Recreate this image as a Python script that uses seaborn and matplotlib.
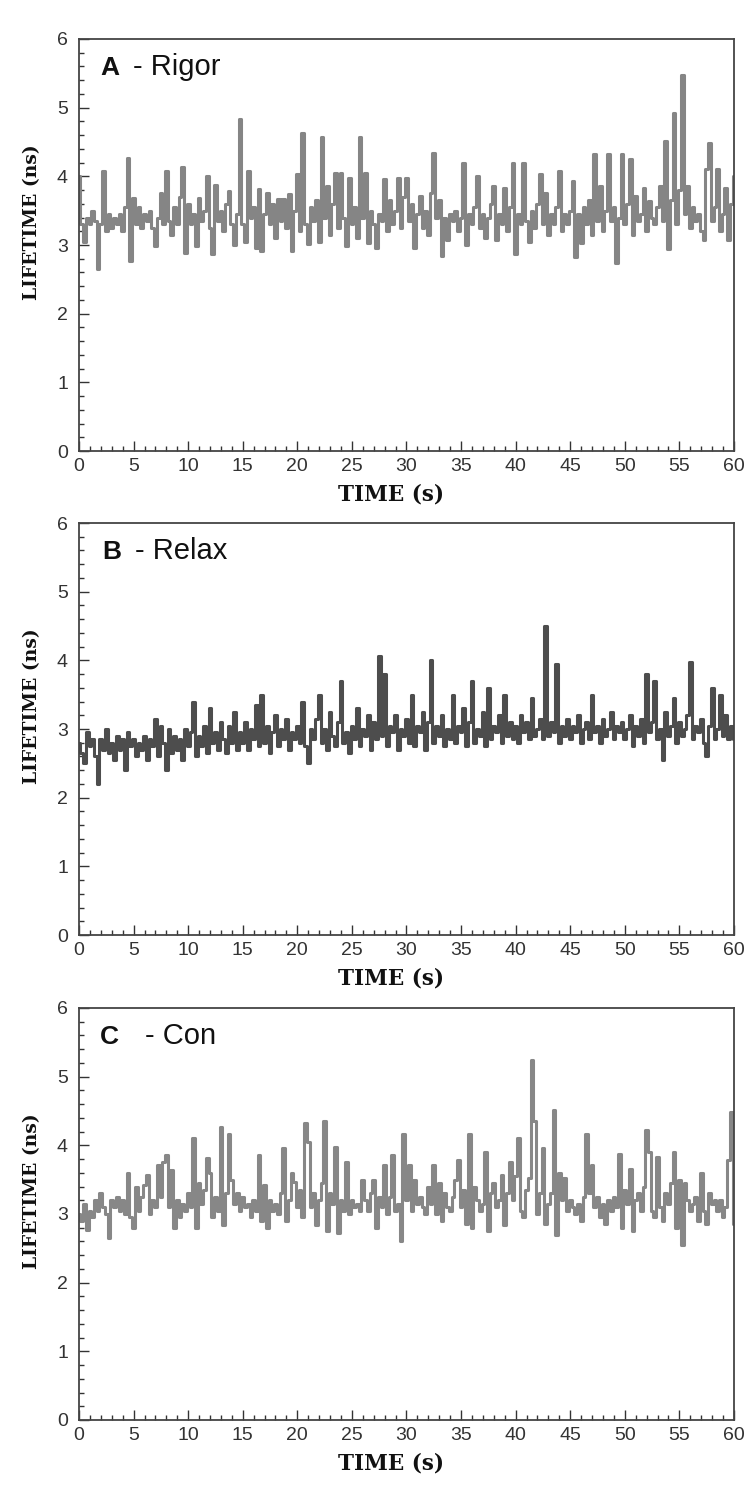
import numpy as np
import pandas as pd
import matplotlib
matplotlib.use("Agg")
import matplotlib.pyplot as plt
from matplotlib.ticker import MultipleLocator
import seaborn as sns

# ---------------- data (lifetime in ns, sampled every 0.25 s from 0 to 60 s) ----------------
rigor = [
    4.00, 3.30, 3.05, 3.40, 3.30, 3.50, 3.35, 2.65, 3.30, 4.08, 3.20, 3.45, 3.25, 3.40, 3.30, 3.45, 3.20, 3.55, 4.27, 2.77,
    3.69, 3.30, 3.55, 3.25, 3.45, 3.35, 3.50, 3.25, 2.99, 3.40, 3.75, 3.30, 4.08, 3.35, 3.15, 3.55, 3.30, 3.70, 4.13, 2.89,
    3.60, 3.30, 3.45, 2.98, 3.69, 3.35, 3.50, 4.00, 3.25, 2.87, 3.88, 3.35, 3.50, 3.20, 3.60, 3.79, 3.30, 3.00, 3.45, 4.83,
    3.30, 3.05, 4.08, 3.40, 3.55, 2.95, 3.81, 2.91, 3.45, 3.76, 3.30, 3.60, 3.10, 3.67, 3.35, 3.67, 3.25, 3.74, 2.91, 3.50,
    4.03, 3.20, 4.63, 3.30, 3.01, 3.55, 3.35, 3.65, 3.05, 4.58, 3.40, 3.86, 3.15, 3.60, 4.05, 3.25, 4.05, 3.40, 2.99, 3.98,
    3.30, 3.55, 3.10, 4.58, 3.40, 4.05, 3.03, 3.50, 3.30, 2.96, 3.45, 3.35, 3.96, 3.20, 3.65, 3.30, 3.50, 3.98, 3.25, 3.70,
    3.98, 3.35, 3.60, 2.96, 3.45, 3.71, 3.25, 3.50, 3.15, 3.75, 4.34, 3.40, 3.65, 2.84, 3.40, 3.08, 3.45, 3.35, 3.50, 3.20,
    3.40, 4.20, 3.00, 3.45, 3.30, 3.55, 4.00, 3.25, 3.45, 3.10, 3.40, 3.60, 3.86, 3.08, 3.45, 3.30, 3.83, 3.20, 3.55, 4.20,
    2.87, 3.45, 3.30, 4.20, 3.35, 3.05, 3.50, 3.25, 3.60, 4.03, 3.30, 3.76, 3.15, 3.45, 3.30, 3.55, 4.08, 3.20, 3.45, 3.30,
    3.50, 3.93, 2.82, 3.45, 3.03, 3.55, 3.30, 3.65, 3.15, 4.32, 3.35, 3.86, 3.20, 3.50, 4.32, 3.35, 3.55, 2.74, 3.40, 4.32,
    3.30, 3.60, 4.25, 3.15, 3.71, 3.35, 3.45, 3.83, 3.20, 3.64, 3.40, 3.30, 3.55, 3.86, 3.35, 4.51, 2.94, 3.65, 4.92, 3.30,
    3.80, 5.48, 3.45, 3.86, 3.25, 3.55, 3.35, 3.45, 3.20, 3.08, 4.10, 4.49, 3.35, 3.55, 4.10, 3.20, 3.45, 3.83, 3.08, 3.60, 4.00,
]

relax = [
    2.80, 2.65, 2.50, 2.95, 2.75, 2.85, 2.60, 2.20, 2.85, 2.70, 3.00, 2.65, 2.80, 2.55, 2.90, 2.70, 2.85, 2.40, 2.95, 2.75,
    2.85, 2.60, 2.80, 2.70, 2.90, 2.55, 2.85, 2.75, 3.15, 2.60, 3.05, 2.80, 2.40, 3.00, 2.65, 2.90, 2.70, 2.85, 2.55, 3.00,
    2.75, 2.95, 3.40, 2.60, 2.90, 2.75, 3.05, 2.65, 3.30, 2.80, 2.95, 2.70, 3.10, 2.85, 2.65, 3.05, 2.80, 3.25, 2.70, 2.95,
    2.80, 3.10, 2.70, 3.00, 2.85, 3.35, 2.75, 3.50, 2.80, 3.05, 2.65, 2.95, 3.20, 2.75, 3.00, 2.85, 3.15, 2.70, 2.95, 2.85,
    3.05, 2.80, 3.40, 2.75, 2.50, 3.00, 2.85, 3.15, 3.50, 2.80, 3.00, 2.70, 3.25, 2.90, 2.75, 3.10, 3.70, 2.80, 2.95, 2.65,
    3.05, 2.85, 3.30, 2.75, 3.00, 2.90, 3.20, 2.70, 3.10, 2.85, 4.07, 2.90, 3.80, 2.75, 3.05, 2.95, 3.20, 2.70, 3.00, 2.90,
    3.15, 2.80, 3.50, 2.75, 3.05, 2.95, 3.25, 2.70, 3.10, 4.00, 2.80, 3.05, 2.90, 3.20, 2.75, 3.00, 2.85, 3.50, 2.80, 3.05,
    2.95, 3.30, 2.75, 3.10, 3.70, 2.80, 3.00, 2.90, 3.25, 2.75, 3.60, 2.85, 3.05, 2.95, 3.20, 2.80, 3.50, 2.90, 3.10, 2.85,
    3.05, 2.80, 3.20, 2.95, 3.10, 2.85, 3.45, 2.90, 3.00, 3.15, 2.85, 4.50, 2.90, 3.10, 2.95, 3.95, 2.80, 3.05, 2.90, 3.15,
    2.85, 3.05, 2.95, 3.20, 2.80, 3.00, 3.10, 2.85, 3.50, 2.95, 3.05, 2.80, 3.15, 2.90, 3.00, 3.25, 2.85, 3.05, 2.95, 3.10,
    2.85, 3.00, 3.20, 2.75, 3.05, 2.90, 3.15, 2.80, 3.80, 2.95, 3.10, 3.70, 2.85, 3.00, 2.55, 3.25, 2.90, 3.05, 3.45, 2.80,
    3.10, 2.90, 3.00, 3.20, 3.98, 2.85, 3.05, 2.95, 3.15, 2.80, 2.60, 3.05, 3.60, 2.85, 3.00, 3.50, 2.90, 3.20, 2.85, 3.05, 2.85,
]

con = [
    3.00, 2.90, 3.15, 2.77, 3.05, 2.95, 3.20, 3.05, 3.30, 3.10, 3.00, 2.65, 3.20, 3.10, 3.25, 3.05, 3.20, 3.00, 3.59, 2.95,
    2.79, 3.40, 3.05, 3.25, 3.42, 3.57, 3.00, 3.20, 3.10, 3.71, 3.25, 3.76, 3.86, 3.10, 3.64, 2.79, 3.20, 2.95, 3.15, 3.05,
    3.30, 3.10, 4.10, 2.80, 3.45, 3.15, 3.35, 3.81, 3.60, 2.95, 3.25, 3.05, 4.27, 2.84, 3.30, 4.17, 3.50, 3.15, 3.30, 3.05,
    3.25, 3.10, 3.15, 2.95, 3.20, 3.05, 3.86, 2.90, 3.42, 2.79, 3.20, 3.05, 3.15, 3.00, 3.30, 3.96, 2.90, 3.20, 3.59, 3.47,
    3.10, 3.35, 2.95, 4.32, 4.05, 3.10, 3.30, 2.84, 3.20, 3.45, 4.35, 2.75, 3.30, 3.15, 3.98, 2.72, 3.20, 3.05, 3.76, 3.00,
    3.20, 3.10, 3.15, 3.05, 3.49, 3.20, 3.05, 3.30, 3.50, 2.79, 3.25, 3.10, 3.71, 3.00, 3.25, 3.86, 3.05, 3.15, 2.60, 4.17,
    3.20, 3.71, 3.05, 3.49, 3.15, 3.25, 3.10, 3.00, 3.40, 3.15, 3.71, 3.00, 3.45, 2.90, 3.30, 3.10, 3.05, 3.25, 3.50, 3.79,
    3.10, 3.35, 2.85, 4.17, 2.80, 3.40, 3.20, 3.05, 3.15, 3.91, 2.75, 3.30, 3.45, 3.10, 3.20, 3.57, 2.84, 3.30, 3.76, 3.20,
    3.55, 4.10, 3.05, 2.95, 3.35, 3.52, 5.24, 4.35, 3.00, 3.30, 3.96, 2.85, 3.15, 3.30, 4.52, 2.69, 3.60, 3.20, 3.52, 3.05,
    3.20, 3.10, 3.00, 3.15, 2.90, 3.25, 4.17, 3.30, 3.71, 3.10, 3.25, 2.95, 3.15, 2.85, 3.20, 3.05, 3.25, 3.10, 3.88, 2.80,
    3.35, 3.15, 3.66, 2.75, 3.20, 3.30, 3.05, 3.40, 4.22, 3.90, 3.05, 2.95, 3.83, 3.10, 2.90, 3.30, 3.15, 3.45, 3.91, 2.80,
    3.50, 2.55, 3.45, 3.20, 3.05, 3.15, 3.25, 2.90, 3.59, 3.05, 2.85, 3.30, 3.15, 3.20, 3.05, 3.20, 2.95, 3.10, 3.79, 4.49, 2.85,
]

panel_letters = ["A", "B", "C"]
panel_names = ["- Rigor", "- Relax", "- Con"]
x_ticks = [0, 5, 10, 15, 20, 25, 30, 35, 40, 45, 50, 55, 60]
y_ticks = [0, 1, 2, 3, 4, 5, 6]
x_label = "TIME (s)"
y_label = "LIFETIME (ns)"

series = [rigor, relax, con]
colors = ["#858585", "#4d4d4d", "#878787"]

# ---------------- figure ----------------
sns.set_style("white")
plt.rcParams["font.family"] = ["Liberation Sans", "DejaVu Sans"]

W, H = 750, 1502
fig = plt.figure(figsize=(W / 100, H / 100), dpi=100)

left_px, right_px = 79, 734
tops = [39, 523, 1008]
height_px = 412
letter_dx = [100, 102, 100]
name_dx = [133, 135, 145]

for i, vals in enumerate(series):
    t = np.linspace(0, 60, len(vals))
    df = pd.DataFrame({"time": t, "lifetime": vals})
    top = tops[i]
    ax = fig.add_axes([left_px / W, 1 - (top + height_px) / H,
                       (right_px - left_px) / W, height_px / H])
    sns.lineplot(data=df, x="time", y="lifetime", ax=ax, color=colors[i],
                 lw=2.2, sort=False, errorbar=None, drawstyle="steps-mid")
    ax.set_xlim(0, 60)
    ax.set_ylim(0, 6)
    ax.set_xticks(x_ticks)
    ax.set_yticks(y_ticks)
    ax.xaxis.set_minor_locator(MultipleLocator(1))
    ax.yaxis.set_minor_locator(MultipleLocator(0.2))
    ax.tick_params(axis="both", which="major", direction="in", length=7, width=1.0,
                   color="#333333", labelsize=14, labelcolor="#333333",
                   top=False, right=False, bottom=True, left=True)
    ax.tick_params(axis="x", which="major", pad=5)
    ax.tick_params(axis="y", which="major", pad=8)
    ax.tick_params(axis="both", which="minor", direction="in", length=3.5, width=1.0,
                   color="#333333", top=False, right=False, bottom=True, left=True)
    for sp in ax.spines.values():
        sp.set_color("#444444")
        sp.set_linewidth(1.3)

    ax.set_xlabel(x_label, family="DejaVu Serif", fontweight="bold", fontsize=15.5, color="#111111")
    ax.set_ylabel(y_label, family="DejaVu Serif", fontweight="bold", fontsize=13.5, color="#111111")
    ax.xaxis.set_label_coords(0.476, -0.078)
    ax.yaxis.set_label_coords(-0.058, 0.555)

    ybase = 1 - 36 / height_px
    ax.text((letter_dx[i] - left_px) / (right_px - left_px), ybase, panel_letters[i],
            transform=ax.transAxes, fontsize=19, fontweight="bold", va="baseline",
            ha="left", color="#111111")
    ax.text((name_dx[i] - left_px) / (right_px - left_px), ybase, panel_names[i],
            transform=ax.transAxes, fontsize=21, va="baseline", ha="left",
            color="#111111")

fig.savefig("out.png", dpi=100, facecolor="white")
